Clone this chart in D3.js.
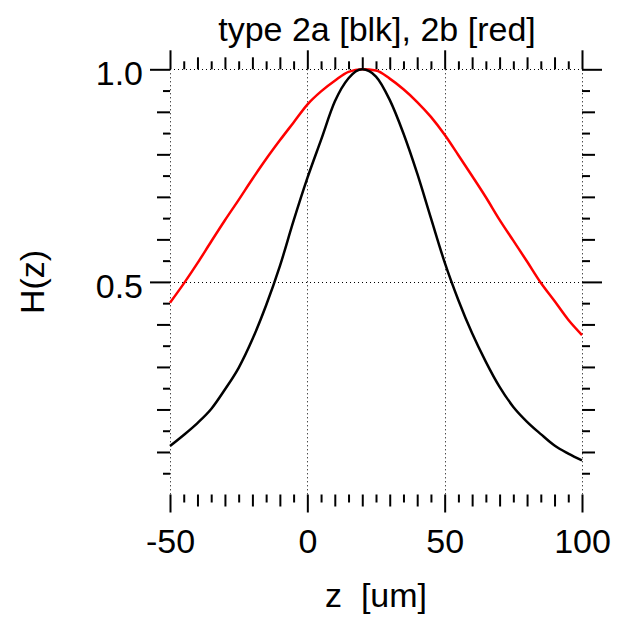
<!DOCTYPE html>
<html>
<head>
<meta charset="utf-8">
<script src="https://cdn.jsdelivr.net/npm/d3@7/dist/d3.min.js"></script>
<style>
  body { margin: 0; background: #fff; }
  text { font-family: "Liberation Sans", Arial, sans-serif; fill: #000; }
</style>
</head>
<body>
<script>
// z positions (um) the two response curves were read at
const zValues = [-50, -45, -40, -35, -30, -25, -20, -15, -10, -5, 0, 5, 10, 15, 20,
                 25, 30, 35, 40, 45, 50, 55, 60, 65, 70, 75, 80, 85, 90, 95, 100];
// type 2a -- black curve
const type2a = [0.114, 0.140, 0.168, 0.201, 0.247, 0.298, 0.365, 0.445, 0.537, 0.644, 0.744,
                0.834, 0.924, 0.979, 1.000, 0.983, 0.928, 0.849, 0.755, 0.650, 0.546,
                0.457, 0.379, 0.312, 0.253, 0.206, 0.171, 0.142, 0.115, 0.096, 0.080];
// type 2b -- red curve
const type2b = [0.451, 0.496, 0.544, 0.595, 0.645, 0.693, 0.742, 0.789, 0.833, 0.875, 0.917,
                0.948, 0.973, 0.994, 1.000, 0.997, 0.978, 0.953, 0.923, 0.888, 0.846,
                0.798, 0.749, 0.699, 0.646, 0.597, 0.548, 0.498, 0.455, 0.411, 0.375];

// tick values
const xMajor  = [-50, 0, 50, 100];
const xMid    = [-40, -30, -20, -10, 10, 20, 30, 40, 60, 70, 80, 90];
const xMinor  = [-45, -35, -25, -15, -5, 5, 15, 25, 35, 45, 55, 65, 75, 85, 95];
const yMajor  = [0.5, 1.0];
const yMid    = [0.1, 0.2, 0.3, 0.4, 0.6, 0.7, 0.8, 0.9];
const yMinor  = [0.05, 0.15, 0.25, 0.35, 0.45, 0.55, 0.65, 0.75, 0.85, 0.95];
const yLabels = ['0.5', '1.0'];

const width = 617, height = 617;
const plotL = 170, plotR = 582, plotT = 69.3, plotB = 494.5;

const svg = d3.select('body').append('svg')
  .attr('width', width)
  .attr('height', height);

const x = d3.scaleLinear().domain([-50, 100]).range([plotL, plotR]);
const y = d3.scaleLinear().domain([0, 1]).range([plotB, plotT]);

// dotted grid at the major ticks, plus the plot edges
const grid = svg.append('g')
  .attr('stroke', '#000')
  .attr('stroke-width', 1)
  .attr('stroke-dasharray', '1,3');
grid.selectAll('line.v').data(xMajor).join('line')
  .attr('x1', d => Math.round(x(d)) + 0.5).attr('x2', d => Math.round(x(d)) + 0.5)
  .attr('y1', plotT).attr('y2', plotB);
grid.selectAll('line.h').data(yMajor).join('line')
  .attr('y1', d => Math.round(y(d)) + 0.5).attr('y2', d => Math.round(y(d)) + 0.5)
  .attr('x1', plotL).attr('x2', plotR);

// one axis call per tick length, labels only on the majors
const tickSet = (axisFn, scale, values, size, pos, labels) => {
  const axis = axisFn(scale).tickValues(values).tickSize(size)
    .tickFormat(labels ? (d, i) => labels[i] : () => '');
  const g = svg.append('g').attr('transform', pos).call(axis);
  g.select('.domain').remove();
  g.selectAll('.tick line').attr('stroke', '#000').attr('stroke-width', 2);
  return g;
};

// bottom
const xb = tickSet(d3.axisBottom, x, xMajor, 18, `translate(0,${plotB})`, xMajor.map(String));
xb.selectAll('.tick text')
  .attr('y', 58).attr('dy', 0)
  .style('font-size', '34px')
  .style('font-family', '"Liberation Sans", Arial, sans-serif');
tickSet(d3.axisBottom, x, xMid, 12, `translate(0,${plotB})`);
tickSet(d3.axisBottom, x, xMinor, 8, `translate(0,${plotB})`);

// top
tickSet(d3.axisTop, x, xMajor, 19, `translate(0,${plotT})`);
tickSet(d3.axisTop, x, xMid, 12, `translate(0,${plotT})`);
tickSet(d3.axisTop, x, xMinor, 8, `translate(0,${plotT})`);

// left
const yl = tickSet(d3.axisLeft, y, yMajor, 20, `translate(${plotL},0)`, yLabels);
yl.selectAll('.tick text')
  .attr('x', -27).attr('dy', '0.46em')
  .style('font-size', '34px')
  .style('font-family', '"Liberation Sans", Arial, sans-serif');
tickSet(d3.axisLeft, y, yMid, 13, `translate(${plotL},0)`);
tickSet(d3.axisLeft, y, yMinor, 7, `translate(${plotL},0)`);

// right
tickSet(d3.axisRight, y, yMajor, 20, `translate(${plotR},0)`);
tickSet(d3.axisRight, y, yMid, 13, `translate(${plotR},0)`);
tickSet(d3.axisRight, y, yMinor, 8, `translate(${plotR},0)`);

// the two curves
const line = d3.line()
  .x((d, i) => x(zValues[i]))
  .y(d => y(d))
  .curve(d3.curveMonotoneX);

svg.append('path').datum(type2b)
  .attr('fill', 'none').attr('stroke', '#ff0000').attr('stroke-width', 2.5)
  .attr('d', line);
svg.append('path').datum(type2a)
  .attr('fill', 'none').attr('stroke', '#000').attr('stroke-width', 2.5)
  .attr('d', line);

// titles
svg.append('text')
  .attr('x', 377).attr('y', 41)
  .attr('text-anchor', 'middle')
  .style('font-size', '34px')
  .text('type 2a [blk], 2b [red]');

svg.append('text')
  .attr('x', 376).attr('y', 607)
  .attr('text-anchor', 'middle')
  .style('font-size', '34px')
  .style('white-space', 'pre')
  .text('z  [um]');

svg.append('text')
  .attr('transform', 'translate(44,282) rotate(-90)')
  .attr('text-anchor', 'middle')
  .style('font-size', '34px')
  .text('H(z)');
</script>
</body>
</html>
